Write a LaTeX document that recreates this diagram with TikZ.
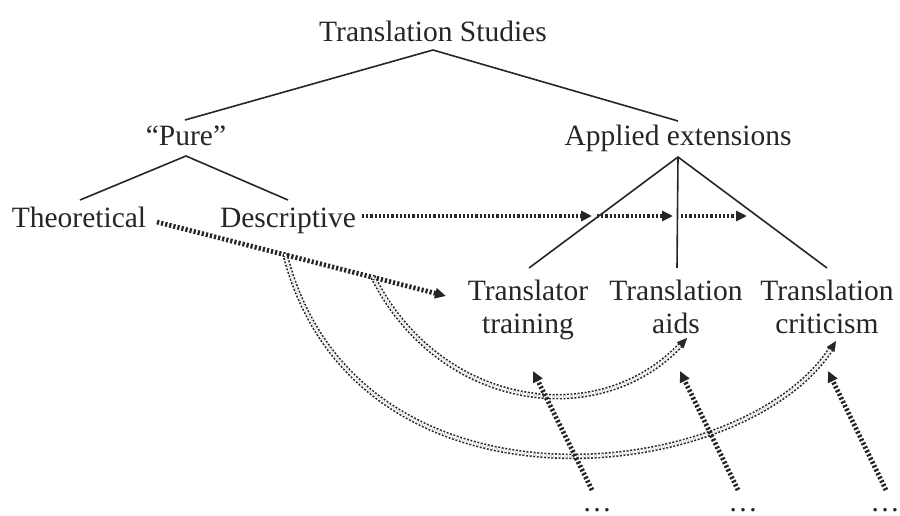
\documentclass[tikz,border=0pt]{standalone}
\usepackage{fontspec}
\setmainfont{Liberation Serif}
\usetikzlibrary{arrows.meta}
\definecolor{ink}{HTML}{262626}
\begin{document}
\begin{tikzpicture}[x=1pt,y=-1pt,
  lbl/.style={font=\fontsize{29.5}{33}\selectfont, text=ink, inner sep=0pt, anchor=base, align=center},
  tree/.style={draw=ink, line width=1.6pt},
  thickdot/.style={draw=ink, line width=4.8pt, dash pattern=on 2.2pt off 2pt, -{Triangle[length=11pt,width=10pt]}},
  dbl/.style={draw=ink, line width=1.6pt, double=white, double distance=2.4pt, dash pattern=on 1.9pt off 1.7pt},
  tiponly/.style={draw=ink, line width=0.2pt, dash pattern=on 0pt off 3000pt, -{Triangle[length=10pt,width=9pt]}}
]
\useasboundingbox (0,0) rectangle (900,516);
\fill[white] (0,0) rectangle (900,516);

% text nodes
\node[lbl] (ts) at (433,42) {Translation Studies};
\node[lbl] (pure) at (186,146) {“Pure”};
\node[lbl] (app) at (678,146) {Applied extensions};
\node[lbl] (theo) at (79,227) {Theoretical};
\node[lbl] (desc) at (288,227) {Descriptive};
\node[lbl, anchor=north] (tt) at (528,280) {Translator\\training};
\node[lbl, anchor=north] (ta) at (676,280) {Translation\\aids};
\node[lbl, anchor=north] (tc) at (827,280) {Translation\\criticism};
\node[lbl] (d1) at (597,511) {…};
\node[lbl] (d2) at (743,511) {…};
\node[lbl] (d3) at (885,511) {…};

% tree coordinates
\coordinate (tsA) at (433,50);
\coordinate (pureT) at (185,120);
\coordinate (appT) at (678,121);
\coordinate (pureA) at (186,156);
\coordinate (theoT) at (80,200);
\coordinate (descT) at (288,200);
\coordinate (appA) at (678,157);
\coordinate (ttT) at (529,268);
\coordinate (taT) at (677,268);
\coordinate (tcT) at (827,268);

\draw[tree] (pureT) -- (tsA) -- (appT);
\draw[tree] (theoT) -- (pureA) -- (descT);
\draw[tree] (ttT) -- (appA) -- (tcT);
\draw[tree] (appA) -- (taT);

% Descriptive -> applied (horizontal)
\coordinate (h0) at (362,216);
\coordinate (h1) at (592,216);
\coordinate (h2) at (597,216);
\coordinate (h3) at (673,216);
\coordinate (h4) at (681,216);
\coordinate (h5) at (747,216);
\draw[thickdot] (h0) -- (h1);
\draw[thickdot] (h2) -- (h3);
\draw[thickdot] (h4) -- (h5);

% Theoretical -> Translator training
\coordinate (t0) at (157,222);
\coordinate (t1) at (446,296);
\draw[thickdot] (t0) -- (t1);

% double dotted curves
\coordinate (cA0) at (373,277);
\coordinate (cA1) at (687,338);
\coordinate (cB0) at (285,254);
\coordinate (cB1) at (836,341);
\draw[dbl, shorten >=8pt] (cA0) .. controls (440,410) and (600,432) .. (cA1);
\draw[tiponly] (cA0) .. controls (440,410) and (600,432) .. (cA1);
\draw[dbl, shorten >=8pt] (cB0) .. controls (355,530) and (745,485) .. (cB1);
\draw[tiponly] (cB0) .. controls (355,530) and (745,485) .. (cB1);

% bottom arrows
\coordinate (b1) at (592,490);
\coordinate (b2) at (738,490);
\coordinate (b3) at (886,490);
\coordinate (e1) at (533,371);
\coordinate (e2) at (680,371);
\coordinate (e3) at (828,371);
\draw[thickdot] (b1) -- (e1);
\draw[thickdot] (b2) -- (e2);
\draw[thickdot] (b3) -- (e3);
\end{tikzpicture}
\end{document}
